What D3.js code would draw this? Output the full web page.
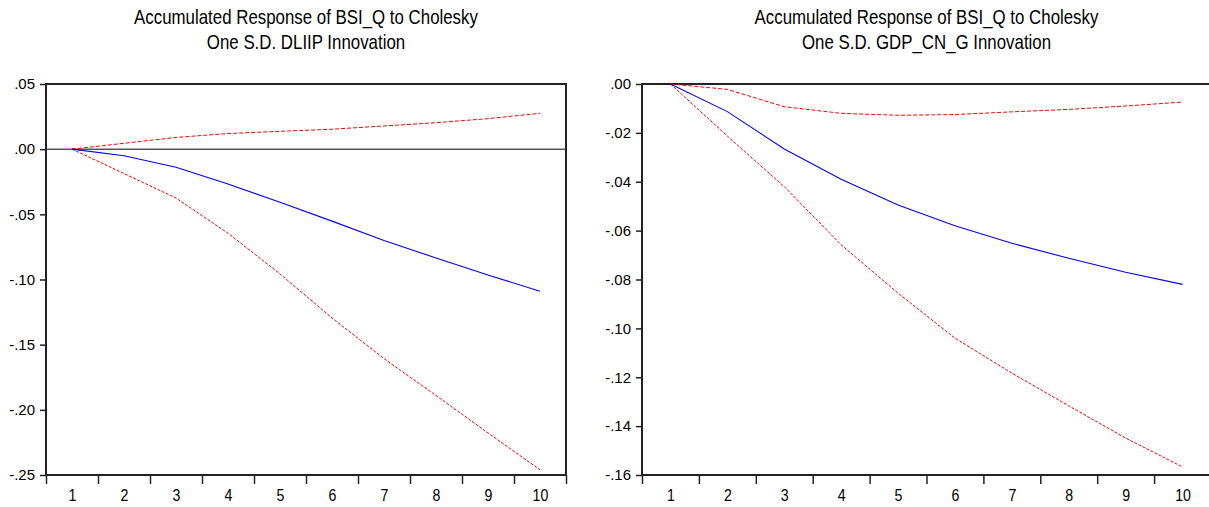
<!DOCTYPE html>
<html>
<head>
<meta charset="utf-8">
<script src="https://cdn.jsdelivr.net/npm/d3@7"></script>
<style>
  body { margin: 0; background: #fff; }
  svg { display: block; }
</style>
</head>
<body>
<svg id="chart" width="1209" height="507"></svg>
<script>
// periods on the x axis
const periods = [1, 2, 3, 4, 5, 6, 7, 8, 9, 10];

// response of BSI_Q to DLIIP shock, with +/- 2 S.E. bands
const dliipResp  = [0, -0.005, -0.0139, -0.0267, -0.0408, -0.0552, -0.0700, -0.0835, -0.0965, -0.1090];
const dliipUpper = [0, 0.0045, 0.0090, 0.0120, 0.0137, 0.0153, 0.0178, 0.0203, 0.0234, 0.0275];
const dliipLower = [0, -0.0187, -0.0375, -0.0645, -0.0957, -0.1295, -0.1607, -0.1890, -0.2177, -0.2460];
const dliipTicks = [0.05, 0, -0.05, -0.10, -0.15, -0.20, -0.25];

// response of BSI_Q to GDP_CN_G shock
const gdpResp  = [0, -0.0113, -0.0266, -0.0390, -0.0495, -0.0580, -0.0652, -0.0713, -0.0770, -0.0820];
const gdpUpper = [0, -0.0022, -0.0093, -0.0120, -0.0128, -0.0125, -0.0114, -0.0104, -0.0090, -0.0074];
const gdpLower = [0, -0.0213, -0.0420, -0.0658, -0.0856, -0.1040, -0.1183, -0.1317, -0.1449, -0.1567];
const gdpTicks = [0, -0.02, -0.04, -0.06, -0.08, -0.10, -0.12, -0.14, -0.16];

const svg = d3.select("#chart");
const font = "'Liberation Sans', Arial, sans-serif";

function fmt (v) {
    return v.toFixed(2).replace("0.", ".");
}

function drawPanel (opt) {
    const x = d3.scaleLinear().domain([0.5, 10.5]).range([opt.left, opt.right]);
    const y = d3.scaleLinear().domain(opt.yDomain).range([475, 84]);
    const g = svg.append("g");
    const cx = (opt.left + opt.right) / 2;

    // titles, squeezed like a narrow face
    const t1 = g.append("text")
        .attr("text-anchor", "middle")
        .style("font-family", font).style("font-size", "19.5px")
        .text(opt.title1);
    const k = 344 / t1.node().getComputedTextLength();
    t1.attr("transform", `translate(${cx},24) scale(${k},1)`);
    g.append("text")
        .attr("text-anchor", "middle")
        .attr("transform", `translate(${cx},49) scale(${k},1)`)
        .style("font-family", font).style("font-size", "19.5px")
        .text(opt.title2);

    // zero line
    if (opt.yDomain[1] > 0) {
        g.append("line")
            .attr("x1", opt.left).attr("x2", opt.right)
            .attr("y1", y(0)).attr("y2", y(0))
            .attr("stroke", "#000").attr("stroke-width", 1);
    }

    // y axis
    const yAxis = g.append("g")
        .attr("transform", `translate(${opt.left},0)`)
        .call(d3.axisLeft(y).tickValues(opt.ticks).tickFormat(fmt).tickSize(6).tickPadding(5));
    yAxis.select(".domain").remove();
    yAxis.selectAll(".tick text").style("font-size", "15px");

    // x axis ticks on the period boundaries
    const bounds = d3.range(0.5, 11, 1);
    const xAxis = g.append("g")
        .attr("transform", "translate(0,475)")
        .call(d3.axisBottom(x).tickValues(bounds).tickFormat("").tickSize(9));
    xAxis.select(".domain").remove();

    const xLab = g.append("g")
        .attr("transform", "translate(0,475)")
        .call(d3.axisBottom(x).tickValues(periods).tickFormat(d3.format("d")).tickSize(0).tickPadding(14));
    xLab.select(".domain").remove();
    xLab.selectAll(".tick text")
        .style("font-size", "16.5px")
        .attr("transform", "scale(0.86,1)");

    g.selectAll(".tick line").attr("stroke", "#222").attr("stroke-width", 1.5);
    g.selectAll(".tick text")
        .style("font-family", font)
        .attr("fill", "#000");

    // frame
    g.append("rect")
        .attr("x", opt.left).attr("y", 84)
        .attr("width", opt.right - opt.left).attr("height", 475 - 84)
        .attr("fill", "none").attr("stroke", "#222").attr("stroke-width", 2);

    const line = d3.line()
        .x((d, i) => x(periods[i]))
        .y((d) => y(d));

    g.append("path").datum(opt.upper)
        .attr("d", line).attr("fill", "none")
        .attr("stroke", "#ff0000").attr("stroke-width", 1)
        .attr("stroke-dasharray", "4,2");
    g.append("path").datum(opt.lower)
        .attr("d", line).attr("fill", "none")
        .attr("stroke", "#ff0000").attr("stroke-width", 1)
        .attr("stroke-dasharray", "3,1.5");
    g.append("path").datum(opt.resp)
        .attr("d", line).attr("fill", "none")
        .attr("stroke", "#0000ff").attr("stroke-width", 1.1);
}

drawPanel({
    left: 46, right: 566,
    yDomain: [-0.25, 0.05], ticks: dliipTicks,
    title1: "Accumulated Response of BSI_Q to Cholesky",
    title2: "One S.D. DLIIP Innovation",
    resp: dliipResp, upper: dliipUpper, lower: dliipLower
});

drawPanel({
    left: 642, right: 1211,
    yDomain: [-0.16, 0], ticks: gdpTicks,
    title1: "Accumulated Response of BSI_Q to Cholesky",
    title2: "One S.D. GDP_CN_G Innovation",
    resp: gdpResp, upper: gdpUpper, lower: gdpLower
});
</script>
</body>
</html>
